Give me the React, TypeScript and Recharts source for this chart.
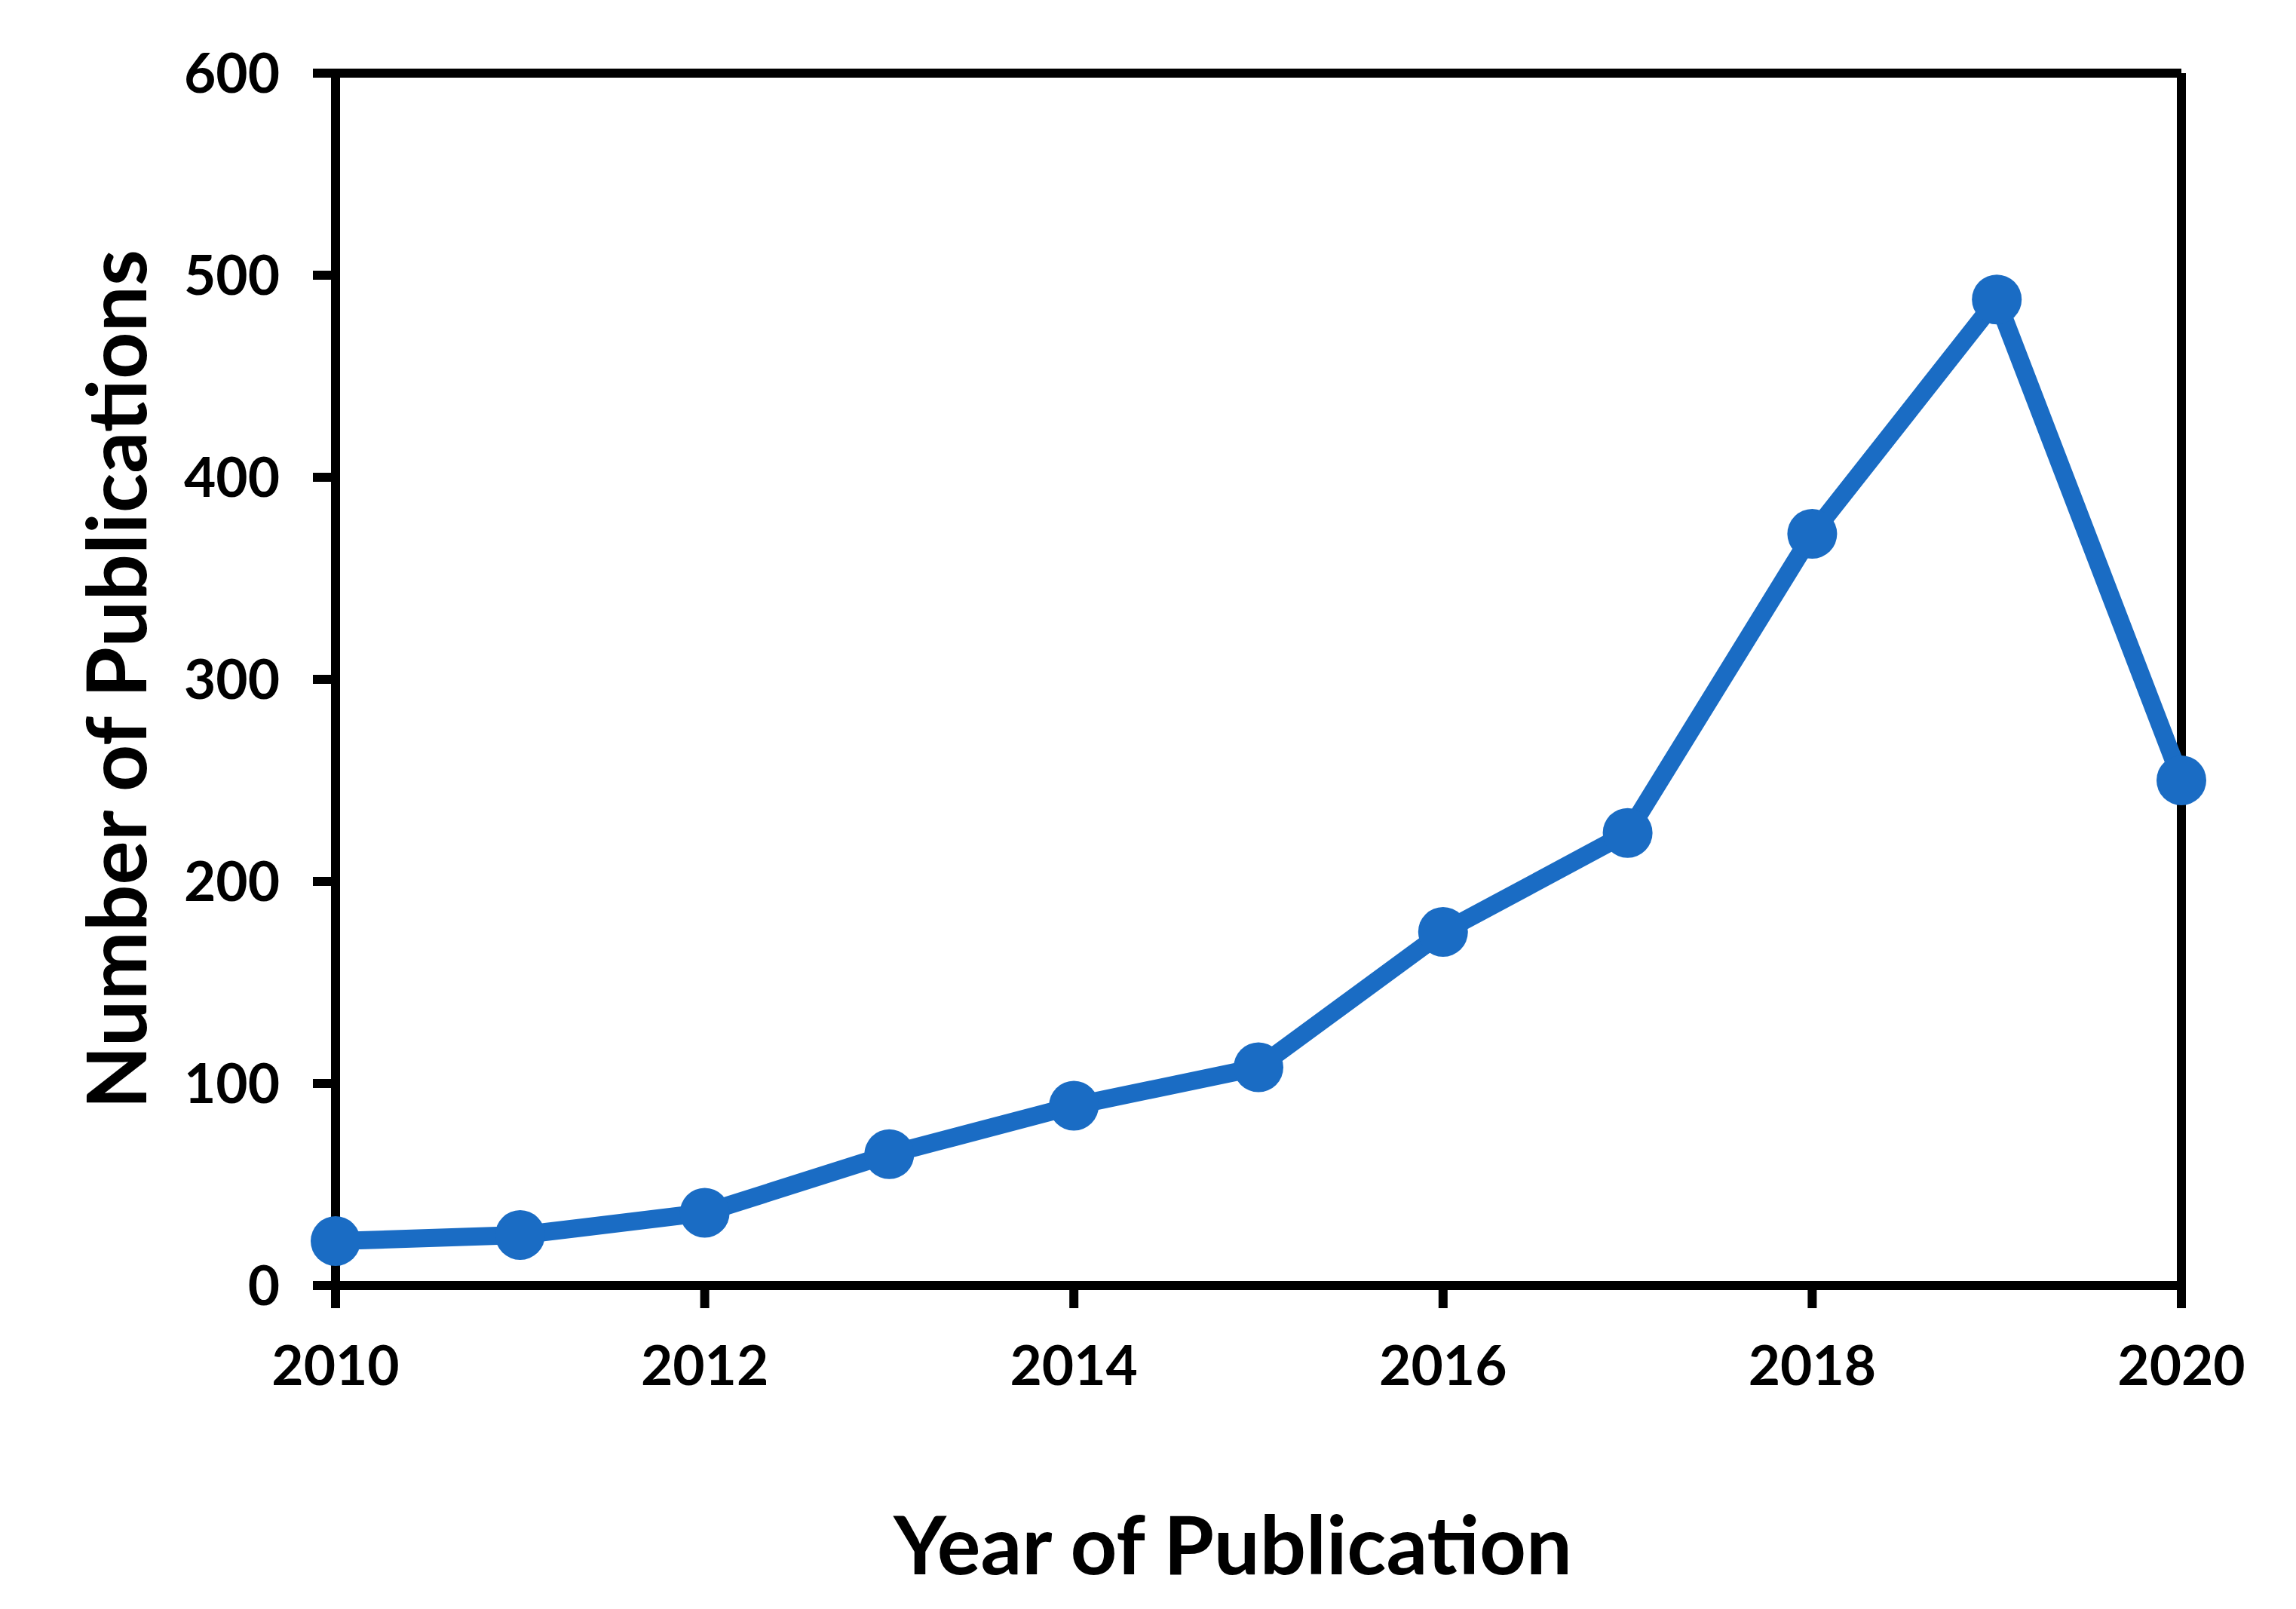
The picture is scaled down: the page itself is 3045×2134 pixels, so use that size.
import React from "react";
import {
  LineChart,
  Line,
  XAxis,
  YAxis,
  ReferenceLine,
} from "recharts";

const years = [2010, 2011, 2012, 2013, 2014, 2015, 2016, 2017, 2018, 2019, 2020];
const publications = [22, 25, 36, 65, 89, 108, 175, 224, 372, 488, 250];
const xTicks = [2010, 2012, 2014, 2016, 2018, 2020];
const yTicks = [0, 100, 200, 300, 400, 500, 600];

const xTitle = "Year of Publication";
const yTitle = "Number of Publications";

const blue = "#1A6CC4";
const font = "Lato, 'Open Sans', sans-serif";

const data = years.map((year, i) => ({ year, count: publications[i] }));

function YTitle({ viewBox }: any) {
  const cy = viewBox.y + viewBox.height / 2;
  const cx = 151;
  return (
    <text
      x={cx}
      y={cy}
      transform={`rotate(-90, ${cx}, ${cy})`}
      textAnchor="middle"
      dominantBaseline="central"
      fontFamily={font}
      fontWeight={700}
      fontSize={109}
      fill="#000"
    >
      {yTitle}
    </text>
  );
}

function XTitle({ viewBox }: any) {
  const cx = viewBox.x + viewBox.width / 2 - 34;
  return (
    <text
      x={cx}
      y={2088}
      textAnchor="middle"
      fontFamily={font}
      fontWeight={700}
      fontSize={108}
      fill="#000"
    >
      {xTitle}
    </text>
  );
}

export default function App() {
  return (
    <div style={{ position: "absolute", left: 0, top: 0, width: 3045, height: 2134, background: "#fff" }}>
      <LineChart
        width={3045}
        height={2134}
        data={data}
        margin={{ top: 97, right: 152, bottom: 0, left: 0 }}
      >
        <XAxis
          dataKey="year"
          type="number"
          domain={[2010, 2020]}
          ticks={xTicks}
          height={429}
          tickSize={30}
          tickMargin={50}
          axisLine={{ stroke: "#000", strokeWidth: 12 }}
          tickLine={{ stroke: "#000", strokeWidth: 12 }}
          tick={{ fill: "#000", fontSize: 73, fontWeight: 700, fontFamily: font }}
          label={<XTitle />}
        />
        <YAxis
          type="number"
          domain={[0, 600]}
          ticks={yTicks}
          width={445}
          tickSize={30}
          tickMargin={44}
          axisLine={{ stroke: "#000", strokeWidth: 12 }}
          tickLine={{ stroke: "#000", strokeWidth: 12 }}
          tick={{ fill: "#000", fontSize: 73, fontWeight: 700, fontFamily: font }}
          label={<YTitle />}
        />
        <ReferenceLine y={600} stroke="#000" strokeWidth={12} />
        <ReferenceLine x={2020} stroke="#000" strokeWidth={12} />
        <Line
          type="linear"
          dataKey="count"
          stroke={blue}
          strokeWidth={24}
          dot={{ r: 33, fill: blue, stroke: "none" }}
          isAnimationActive={false}
        />
      </LineChart>
    </div>
  );
}
